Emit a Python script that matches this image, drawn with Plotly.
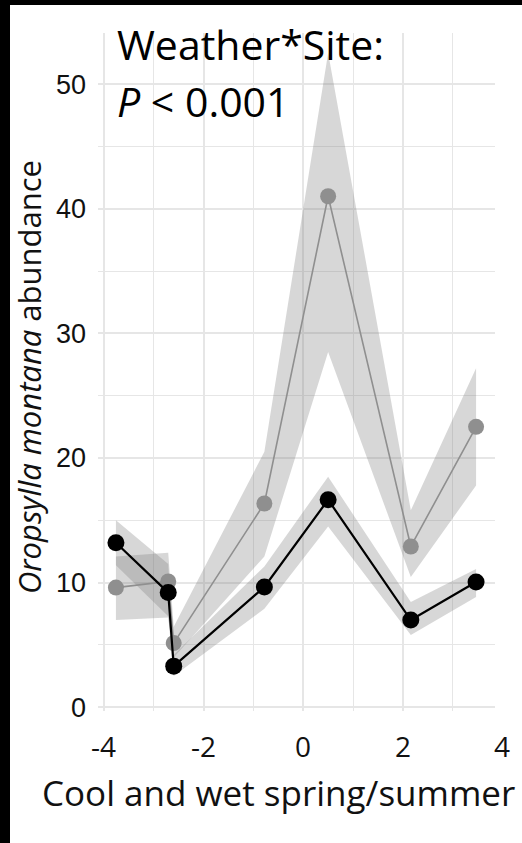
import plotly.graph_objects as go

# ---- data ----
weather = [-3.76, -2.71, -2.60, -0.78, 0.50, 2.16, 3.47]

black_mean = [13.2, 9.2, 3.3, 9.65, 16.65, 7.0, 10.05]
black_lo = [11.4, 7.3, 2.5, 7.9, 14.5, 5.8, 8.85]
black_hi = [15.0, 11.5, 4.2, 11.3, 18.5, 8.45, 11.1]

gray_mean = [9.6, 10.1, 5.15, 16.35, 41.0, 12.9, 22.5]
gray_lo = [7.0, 7.2, 4.0, 12.1, 28.5, 10.45, 17.8]
gray_hi = [12.1, 12.4, 6.45, 20.5, 52.5, 15.8, 27.2]

x_tickvals = [-4, -2, 0, 2, 4]
x_ticktext = ["-4", "-2", "0", "2", "4"]
y_tickvals = [0, 10, 20, 30, 40, 50]
y_ticktext = ["0", "10", "20", "30", "40", "50"]

x_title = "Cool and wet spring/summer"
y_title = "<i>Oropsylla montana</i> abundance"
stat_line1 = "Weather*Site:"
stat_line2 = "<i>P</i> &lt; 0.001"

# ---- layout geometry ----
W, H = 522, 843
ML, MR, MT, MB = 98, 27, 33, 132
PW, PH = W - ML - MR, H - MT - MB
X_RANGE = [-4.12, 3.85]
Y_RANGE = [-0.3, 54.1]

def px_to_paper_x(px):
    return (px - ML) / PW

def px_to_paper_y(py):
    return (H - MB - py) / PH

def data_to_paper_x(v):
    return (v - X_RANGE[0]) / (X_RANGE[1] - X_RANGE[0])

band_fill = "rgba(122,122,122,0.30)"
gray_col = "#8f8f8f"
text_font = "Open Sans"

fig = go.Figure()

def add_band(xs, lo, hi):
    fig.add_trace(go.Scatter(x=xs, y=lo, mode="lines", line=dict(width=0),
                             hoverinfo="skip", showlegend=False))
    fig.add_trace(go.Scatter(x=xs, y=hi, mode="lines", line=dict(width=0),
                             fill="tonexty", fillcolor=band_fill,
                             hoverinfo="skip", showlegend=False))

add_band(weather, gray_lo, gray_hi)
add_band(weather, black_lo, black_hi)

fig.add_trace(go.Scatter(x=weather, y=gray_mean, mode="lines+markers",
                         line=dict(color=gray_col, width=1.6),
                         marker=dict(color=gray_col, size=16),
                         showlegend=False, cliponaxis=False))
fig.add_trace(go.Scatter(x=weather, y=black_mean, mode="lines+markers",
                         line=dict(color="black", width=2.2),
                         marker=dict(color="black", size=17),
                         showlegend=False, cliponaxis=False))

grid_col = "#e6e6e6"
fig.update_xaxes(range=X_RANGE, tickvals=x_tickvals, showticklabels=False,
                 showgrid=True, gridcolor=grid_col, gridwidth=1.6,
                 minor=dict(dtick=1, showgrid=True, gridcolor=grid_col, gridwidth=1.3),
                 zeroline=False, showline=False)
fig.update_yaxes(range=Y_RANGE, tickvals=y_tickvals, ticktext=y_ticktext,
                 tickfont=dict(family="Liberation Sans", size=27, color="#111111"),
                 ticks="", ticklabelstandoff=11,
                 showgrid=True, gridcolor=grid_col, gridwidth=1.6,
                 minor=dict(dtick=5, showgrid=True, gridcolor=grid_col, gridwidth=1.3),
                 zeroline=False, showline=False)

annotations = []
# x tick labels drawn as text so that the "4" label past the panel edge is shown
for v, t in zip(x_tickvals, x_ticktext):
    annotations.append(dict(x=data_to_paper_x(v), xref="paper", y=px_to_paper_y(746), yref="paper",
                            text=t, showarrow=False, xanchor="center", yanchor="middle",
                            font=dict(family=text_font, size=28, color="#111111")))
annotations.append(dict(x=px_to_paper_x(278), xref="paper", y=px_to_paper_y(792), yref="paper",
                        text=x_title, showarrow=False, xanchor="center", yanchor="middle",
                        font=dict(family=text_font, size=35, color="#111111")))
annotations.append(dict(x=px_to_paper_x(29), xref="paper", y=px_to_paper_y(377), yref="paper",
                        text=y_title, showarrow=False, textangle=-90,
                        xanchor="center", yanchor="middle",
                        font=dict(family=text_font, size=31, color="#111111")))
annotations.append(dict(x=px_to_paper_x(115), xref="paper", y=px_to_paper_y(44), yref="paper",
                        text=stat_line1, showarrow=False, xanchor="left", yanchor="middle",
                        font=dict(family=text_font, size=41, color="#000000")))
annotations.append(dict(x=px_to_paper_x(115), xref="paper", y=px_to_paper_y(101), yref="paper",
                        text=stat_line2, showarrow=False, xanchor="left", yanchor="middle",
                        font=dict(family=text_font, size=41, color="#000000")))

# black frame strips at the left and top edges of the picture
shapes = [
    dict(type="rect", xref="paper", yref="paper", layer="above",
         x0=px_to_paper_x(-2), x1=px_to_paper_x(10), y0=px_to_paper_y(H + 2), y1=px_to_paper_y(-2),
         fillcolor="black", line=dict(width=0)),
    dict(type="rect", xref="paper", yref="paper", layer="above",
         x0=px_to_paper_x(-2), x1=px_to_paper_x(W + 2), y0=px_to_paper_y(5), y1=px_to_paper_y(-2),
         fillcolor="black", line=dict(width=0)),
]

fig.update_layout(width=W, height=H, margin=dict(l=ML, r=MR, t=MT, b=MB),
                  paper_bgcolor="white", plot_bgcolor="white",
                  annotations=annotations, shapes=shapes, showlegend=False)

fig.write_html("out.html", config={"displayModeBar": False},
               post_script="document.body.style.margin='0';document.body.style.overflow='hidden';")
